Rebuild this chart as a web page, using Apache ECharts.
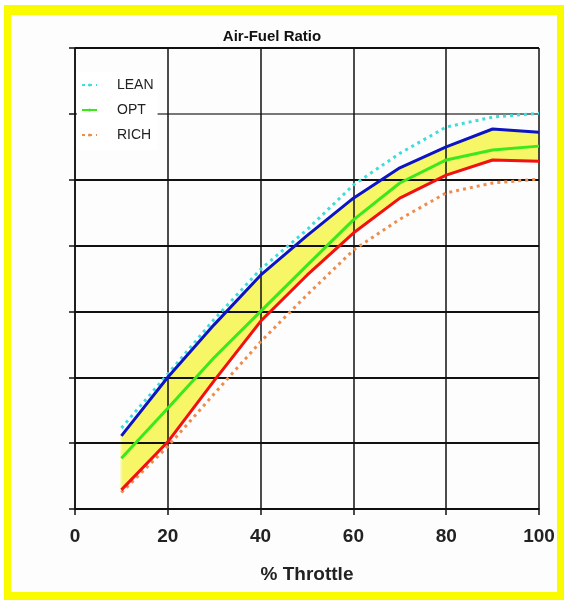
<!DOCTYPE html>
<html><head><meta charset="utf-8">
<script src="https://cdn.jsdelivr.net/npm/echarts@6/dist/echarts.min.js"></script>
<style>
html,body{margin:0;padding:0;background:#fff;}
#frame{position:absolute;left:4px;top:5px;width:546px;height:577px;border-style:solid;border-color:#fbfb00;border-width:10px 7px 8px 7px;background:#fdfdfd;}
#c{position:absolute;left:0;top:0;width:566px;height:600px;}
</style></head>
<body>
<div id="frame"></div>
<div id="c"></div>
<script>
const throttle = [10, 20, 30, 40, 50, 60, 70, 80, 90, 100];
const xTicks = [0, 20, 40, 60, 80, 100];
const lean  = [1.23, 2.05, 2.88, 3.64, 4.24, 4.92, 5.40, 5.80, 5.95, 6.01];
const upper = [1.11, 2.00, 2.80, 3.55, 4.15, 4.72, 5.18, 5.50, 5.77, 5.72];
const opt   = [0.77, 1.53, 2.30, 3.00, 3.70, 4.39, 4.95, 5.30, 5.45, 5.51];
const lower = [0.29, 1.02, 1.95, 2.85, 3.55, 4.19, 4.72, 5.07, 5.30, 5.28];
const rich  = [0.25, 0.95, 1.75, 2.54, 3.25, 3.93, 4.40, 4.80, 4.95, 5.01];

const pairs = a => throttle.map((x, i) => [x, a[i]]);
const font = 'Liberation Sans, Arial, sans-serif';

const chart = echarts.init(document.getElementById('c'), null, {renderer: 'canvas'});
chart.setOption({
  backgroundColor: 'transparent',
  animation: false,
  title: {
    text: 'Air-Fuel Ratio', left: 267, top: 24, textAlign: 'center',
    textStyle: {fontFamily: font, fontWeight: 'bold', fontSize: 15, color: '#111'}
  },
  legend: {
    data: ['LEAN', 'OPT', 'RICH'],
    orient: 'vertical', left: 77, top: 72,
    backgroundColor: '#fff',
    padding: [6, 4, 8, 4],
    itemGap: 11, itemWidth: 15, itemHeight: 4,
    textStyle: {fontFamily: font, fontSize: 14, color: '#222', padding: [0, 0, 0, 15]}
  },
  grid: {left: 75, right: 27, top: 48, bottom: 91, containLabel: false},
  xAxis: {
    type: 'value', min: 0, max: 100, interval: 20, z: 1,
    name: '% Throttle', nameLocation: 'middle', nameGap: 56,
    nameTextStyle: {fontFamily: font, fontWeight: 'bold', fontSize: 19, color: '#222'},
    axisLine: {show: true, lineStyle: {color: '#111', width: 1.5}},
    axisTick: {show: true, length: 6, lineStyle: {color: '#111', width: 1.5}},
    axisLabel: {
      margin: 18, fontFamily: font, fontWeight: 'bold', fontSize: 19, color: '#222',
      formatter: v => xTicks.includes(v) ? String(v) : ''
    },
    splitLine: {show: true, lineStyle: {color: '#111', width: 1.5}}
  },
  yAxis: {
    type: 'value', min: 0, max: 7, interval: 1, z: 1,
    axisLine: {show: true, lineStyle: {color: '#111', width: 1.5}},
    axisTick: {show: true, length: 6, lineStyle: {color: '#111', width: 1.5}},
    axisLabel: {show: false},
    splitLine: {show: true, lineStyle: {
      color: ['#111', '#111', '#111', '#111', '#111', '#111', '#777777', '#111'], width: 2}}
  },
  series: [
    {name: 'band', type: 'custom', z: 0, silent: true,
     data: [0],
     renderItem: (params, api) => {
       const pts = [];
       throttle.forEach((x, i) => pts.push(api.coord([x, upper[i]])));
       for (let i = throttle.length - 1; i >= 0; i--) pts.push(api.coord([throttle[i], lower[i]]));
       return {type: 'polygon', shape: {points: pts}, style: {fill: '#f6f666', stroke: '#f8f8a0', lineWidth: 2}};
     }},
    {name: 'LEAN', type: 'line', data: pairs(lean), symbol: 'none', z: 3,
     itemStyle: {color: '#3fdcdc'},
     lineStyle: {color: '#3fdcdc', width: 3, type: [3, 4]}},
    {name: 'RICH', type: 'line', data: pairs(rich), symbol: 'none', z: 3,
     itemStyle: {color: '#ee8c4c'},
     lineStyle: {color: '#ee8c4c', width: 3, type: [3, 4]}},
    {name: 'upper', type: 'line', data: pairs(upper), symbol: 'none', z: 4,
     lineStyle: {color: '#0c14c4', width: 3}},
    {name: 'OPT', type: 'line', data: pairs(opt), symbol: 'none', z: 4,
     itemStyle: {color: '#3ce81c'},
     lineStyle: {color: '#3ce81c', width: 3}},
    {name: 'lower', type: 'line', data: pairs(lower), symbol: 'none', z: 4,
     lineStyle: {color: '#f21010', width: 3}}
  ]
});
</script>
</body></html>
